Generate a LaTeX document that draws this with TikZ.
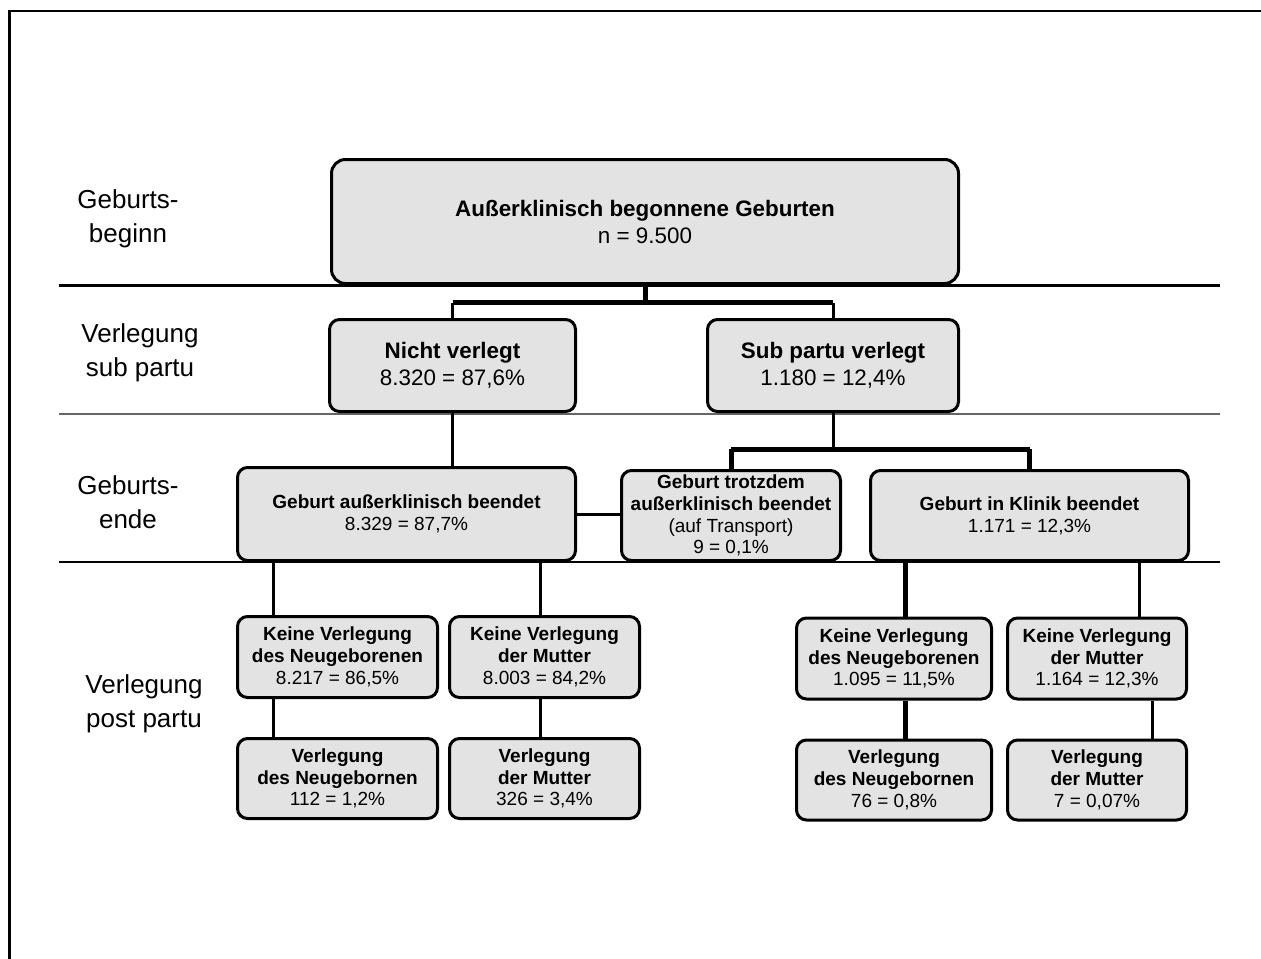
\documentclass[tikz,border=0pt]{standalone}
\usepackage{fontspec}
\setmainfont{Liberation Sans}
\usepackage{tikz}
\usetikzlibrary{positioning}
\definecolor{boxgray}{HTML}{E3E3E3}

\begin{document}
\begin{tikzpicture}[
  x=0.5pt, y=-0.5pt,
  box/.style={draw, line width=1.5pt, rounded corners=5pt, fill=boxgray,
              align=center, inner sep=1pt},
  bigbox/.style={box, font=\fontsize{11.2}{13.5}\selectfont},
  smallbox/.style={box, font=\fontsize{9.5}{10.9}\selectfont},
  lab/.style={align=center, font=\fontsize{13}{17}\selectfont},
  link/.style={line width=1.5pt},
  blink/.style={line width=2.5pt},
  rule/.style={line width=1.4pt},
  thinrule/.style={line width=0.6pt, black!60}
]
\useasboundingbox (0,0) rectangle (1261,958);
\draw[line width=1.35pt] (1275,11) -| (9.5,975);

% phase lines
\draw[rule] (59,285.5) -- (1220,285.5);
\draw[thinrule] (59,414) -- (1220,414);
\draw[rule] (59,562) -- (1220,562);

% phase labels
\node[lab] (lbeg)  at (128,219) {Geburts-\\beginn};
\node[lab] (lsub)  at (140,353) {Verlegung\\sub partu};
\node[lab] (lend)  at (128,502) {Geburts-\\ende};
\node[lab] (lpost) at (144,704) {Verlegung\\post partu};

% boxes
\node[bigbox, rounded corners=7pt, minimum width=313.5pt, minimum height=62pt] (root) at (645,221.5)
  {\textbf{Außerklinisch begonnene Geburten}\\n = 9.500};
\node[bigbox, minimum width=123pt, minimum height=46pt] (nv) at (452.5,365.5)
  {\textbf{Nicht verlegt}\\8.320 = 87,6\%};
\node[bigbox, minimum width=125.5pt, minimum height=46pt] (sp) at (833,365.5)
  {\textbf{Sub partu verlegt}\\1.180 = 12,4\%};

\node[smallbox, minimum width=169pt, minimum height=46.5pt] (ge) at (406.5,514)
  {\textbf{Geburt außerklinisch beendet}\\8.329 = 87,7\%};
\node[smallbox, minimum width=109.5pt, minimum height=45pt] (tr) at (731,515.5)
  {\textbf{Geburt trotzdem}\\\textbf{außerklinisch beendet}\\(auf Transport)\\9 = 0,1\%};
\node[smallbox, minimum width=159pt, minimum height=45pt] (kl) at (1029.5,515.5)
  {\textbf{Geburt in Klinik beendet}\\1.171 = 12,3\%};

\node[smallbox, minimum width=100pt, minimum height=40.5pt] (a1) at (337.5,657)
  {\textbf{Keine Verlegung}\\\textbf{des Neugeborenen}\\8.217 = 86,5\%};
\node[smallbox, minimum width=95pt, minimum height=40.5pt, right=4.5pt of a1] (b1)
  {\textbf{Keine Verlegung}\\\textbf{der Mutter}\\8.003 = 84,2\%};
\node[smallbox, minimum width=100pt, minimum height=40pt, below=19pt of a1] (a2)
  {\textbf{Verlegung}\\\textbf{des Neugebornen}\\112 = 1,2\%};
\node[smallbox, minimum width=95pt, minimum height=40pt, below=19pt of b1] (b2)
  {\textbf{Verlegung}\\\textbf{der Mutter}\\326 = 3,4\%};

\node[smallbox, minimum width=97.5pt, minimum height=40.5pt] (c1) at (894,658.5)
  {\textbf{Keine Verlegung}\\\textbf{des Neugeborenen}\\1.095 = 11,5\%};
\node[smallbox, minimum width=89.5pt, minimum height=40.5pt, right=6.5pt of c1] (d1)
  {\textbf{Keine Verlegung}\\\textbf{der Mutter}\\1.164 = 12,3\%};
\node[smallbox, minimum width=97.5pt, minimum height=40pt, below=19pt of c1] (c2)
  {\textbf{Verlegung}\\\textbf{des Neugebornen}\\76 = 0,8\%};
\node[smallbox, minimum width=89.5pt, minimum height=40pt, below=19pt of d1] (d2)
  {\textbf{Verlegung}\\\textbf{der Mutter}\\7 = 0,07\%};

% connectors
\draw[blink] (root.south) -- ++(0,17.5) coordinate (f1);
\draw[blink] (nv.north |- f1) -- (sp.north |- f1);
\draw[link] (nv.north |- f1) -- (nv.north);
\draw[link] (sp.north |- f1) -- (sp.north);

\draw[link] (nv.south) -- (nv.south |- ge.north);
\draw[link] (sp.south) -- ++(0,36) coordinate (f2);
\draw[blink] (tr.north |- f2) -- (kl.north |- f2);
\draw[blink] (tr.north |- f2) -- (tr.north);
\draw[blink] (kl.north |- f2) -- (kl.north);
\draw[link] (ge.east) -- (ge.east -| tr.west);

\draw[link] ([xshift=18.5pt]ge.south west) -- ([xshift=18.5pt]a1.north west);
\draw[link] ([xshift=18.5pt]a1.south west) -- ([xshift=18.5pt]a2.north west);
\draw[link] ([xshift=-18.5pt]ge.south east) -- ([xshift=-18.5pt]ge.south east |- b1.north);
\draw[link] ([xshift=-18.5pt]ge.south east |- b1.south) -- ([xshift=-18.5pt]ge.south east |- b2.north);

\draw[blink] ([xshift=18pt]kl.south west) -- ([xshift=18pt]kl.south west |- c1.north);
\draw[blink] ([xshift=18pt]kl.south west |- c1.south) -- ([xshift=18pt]kl.south west |- c2.north);
\draw[link] ([xshift=-25.5pt]kl.south east) -- ([xshift=-25.5pt]kl.south east |- d1.north);
\draw[link] ([xshift=-18pt]d1.south east) -- ([xshift=-18pt]d2.north east);
\end{tikzpicture}
\end{document}
